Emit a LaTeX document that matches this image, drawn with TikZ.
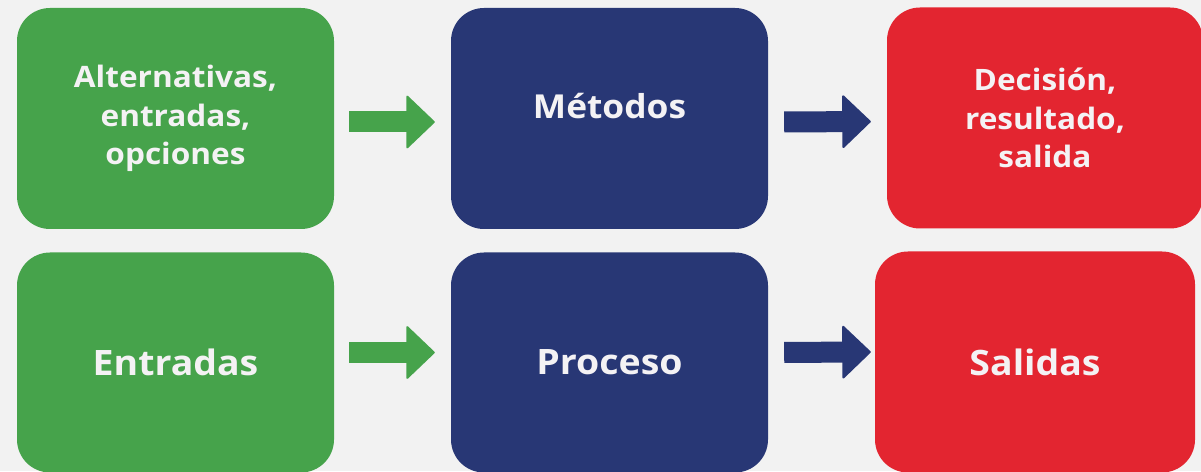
\documentclass[tikz,border=0pt]{standalone}
\usepackage{fontspec}
\setmainfont{Open Sans}[FakeStretch=1.07]
\usepackage{xcolor}
\usetikzlibrary{arrows.meta}
\definecolor{BgGray}{HTML}{F2F2F2}
\definecolor{BoxGreen}{HTML}{46A34B}
\definecolor{BoxNavy}{HTML}{283775}
\definecolor{BoxRed}{HTML}{E32530}
\definecolor{TextWhite}{HTML}{F4F2F4}
\tikzset{
    stagebox/.style={rectangle, rounded corners=33pt, minimum width=317pt,
        minimum height=221pt, inner sep=0pt, text=TextWhite, align=center,
        font=\bfseries\fontsize{29.5}{38.5}\selectfont},
    bigtext/.style={font=\bfseries\fontsize{35}{40}\selectfont},
    fatarrow/.style={line width=21pt,
        -{Triangle[length=29pt,width=55pt,line width=2pt,round]}},
}
\begin{document}
\begin{tikzpicture}[x=1pt,y=1pt]
    \fill[BgGray] (0,0) rectangle (1201,471);
    \useasboundingbox (0,0) rectangle (1201,471);
    %Top row
    \node[stagebox, fill=BoxGreen] (alt) at (175.5,352.5) {Alternativas,\\entradas,\\opciones};
    \node[stagebox, fill=BoxNavy, font=\bfseries\fontsize{33}{40}\selectfont,
          text height=24pt, text depth=24pt] (met) at (609.5,352.5) {M\'etodos};
    \node[stagebox, fill=BoxRed, minimum width=316pt] (dec) at (1045,353) {Decisi\'on,\\resultado,\\salida};
    %Bottom row
    \node[stagebox, bigtext, fill=BoxGreen, minimum height=220pt] (ent) at (175.5,108.5) {Entradas};
    \node[stagebox, bigtext, fill=BoxNavy, minimum height=220pt] (pro) at (609.5,108.5) {Proceso};
    \node[stagebox, bigtext, fill=BoxRed, minimum width=320pt] (sal) at (1035,109) {Salidas};
    %Arrows
    \draw[fatarrow, BoxGreen, shorten <=15pt, shorten >=16pt] ([yshift=-3.5pt]alt.east) -- ([yshift=-3.5pt]met.west);
    \draw[fatarrow, BoxNavy, shorten <=16pt, shorten >=16pt] ([yshift=-3.5pt]met.east) -- ([yshift=-3.5pt]dec.west);
    \draw[fatarrow, BoxGreen, shorten <=15pt, shorten >=16pt] ([yshift=10pt]ent.east) -- ([yshift=10pt]pro.west);
    \draw[fatarrow, BoxNavy, shorten <=16pt, shorten >=4pt] ([yshift=10pt]pro.east) -- ([yshift=10pt]sal.west);
\end{tikzpicture}
\end{document}
